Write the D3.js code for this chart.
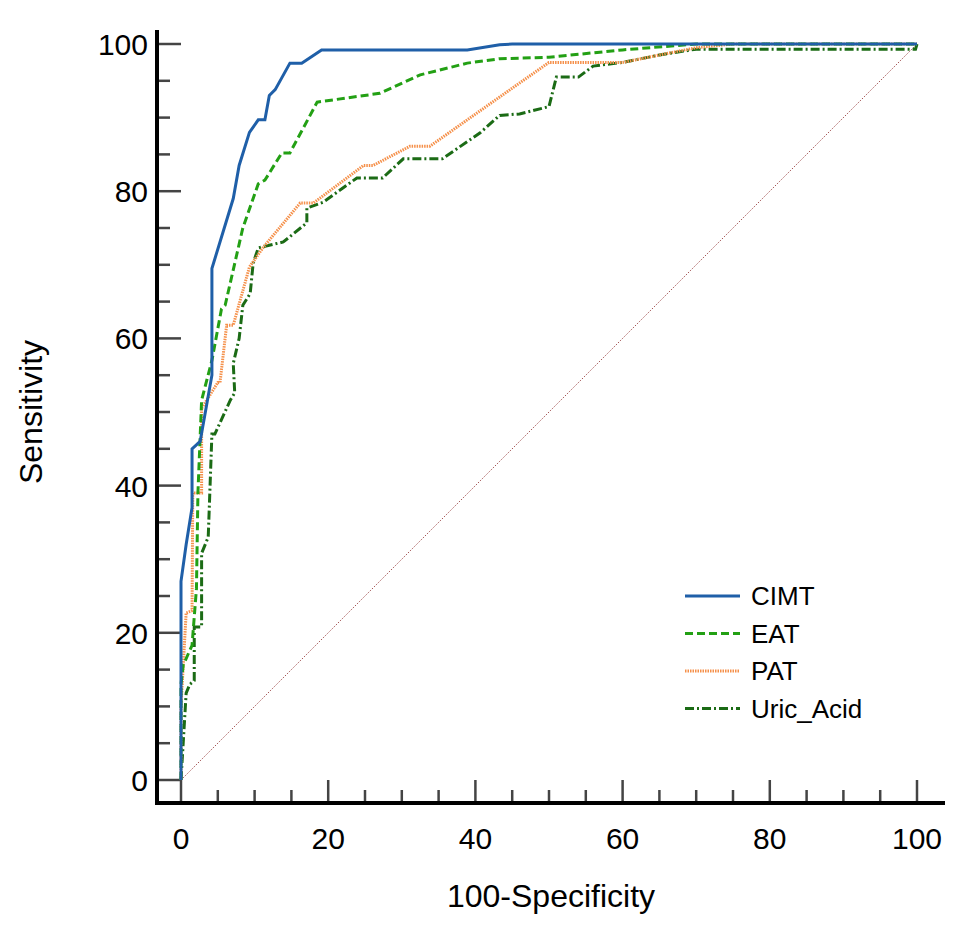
<!DOCTYPE html>
<html><head><meta charset="utf-8">
<script src="https://cdn.jsdelivr.net/npm/d3@7"></script>
<style>body{margin:0;background:#fff}text{font-family:"Liberation Sans",Arial,sans-serif}</style>
</head><body><svg id="c" width="963" height="925"></svg>
<script>
// ROC curves, [100-specificity, sensitivity]
var cimt = [[0,0],[0,15.4],[0,27],[0.7,32],[1.5,37],[1.5,45],[2.6,46],[4.2,55],[4.2,69.5],[7.1,79],[7.9,83.5],[9.3,88],[10.5,89.7],[11.4,89.7],[12,93],[12.8,93.8],[14.8,97.4],[16.4,97.4],[19.1,99.2],[38.9,99.2],[43.3,99.9],[45,100],[100,100]];
var eat = [[0,0],[0,13],[0.3,15.6],[1.5,18.3],[2.1,26],[2.3,39],[2.8,51.6],[4.2,57],[5.5,64],[6,64.5],[8.4,75],[10.5,81],[11.4,81.5],[13.7,85.2],[14.8,85.2],[18.5,92.1],[27,93.3],[32.5,95.8],[38.9,97.4],[43.3,98],[50,98.2],[60,99.2],[70,100],[100,100]];
var pat = [[0,0],[0,10],[0.7,22.7],[1.5,23],[1.6,39],[2.8,39],[2.8,50.5],[5,54],[5.3,54],[6.2,61.8],[7.1,61.8],[9.3,69.7],[11.2,72.4],[16.2,78.4],[18,78.4],[24.8,83.5],[26.1,83.5],[31.1,86.1],[33.8,86.1],[43.3,92.8],[50,97.5],[60,97.5],[65,98.5],[70,99.5],[75,100],[100,100]];
var uric = [[0,0],[0.7,11.8],[1.2,13],[1.8,13.5],[1.8,20.8],[2.8,20.8],[2.8,30.8],[3.7,33],[4.2,47],[4.6,47],[6.7,51.6],[7.3,52.6],[7.1,56.6],[7.9,60],[8.4,64.5],[9.4,66.1],[9.8,70.2],[10.5,72.3],[13.9,73.1],[17.1,75.7],[17.1,77.7],[19.3,78.5],[23.9,81.8],[27.4,81.8],[30.2,84.4],[35.5,84.4],[40.6,87.9],[43.3,90.3],[46,90.5],[50,91.5],[51,95.5],[54,95.5],[56,97],[60,97.5],[65,98.5],[70,99.3],[99.8,99.3],[100,100]];
var names = ["CIMT","EAT","PAT","Uric_Acid"];
var ticks = [0,20,40,60,80,100];

var svg = d3.select("#c");
var x = d3.scaleLinear().domain([0,100]).range([181,917]);
var y = d3.scaleLinear().domain([0,100]).range([780,44]);
var minor = d3.range(0,101,5);

// axes
svg.append("line").attr("x1",157).attr("x2",157).attr("y1",30).attr("y2",805).attr("stroke","#000").attr("stroke-width",4);
svg.append("line").attr("x1",155).attr("x2",945).attr("y1",803).attr("y2",803).attr("stroke","#000").attr("stroke-width",4);
minor.forEach(function(v){
  var big = v%20==0;
  svg.append("line").attr("x1",159).attr("x2",big?181:170).attr("y1",y(v)).attr("y2",y(v)).attr("stroke","#444").attr("stroke-width",2.5);
  svg.append("line").attr("y1",801).attr("y2",big?780:790).attr("x1",x(v)).attr("x2",x(v)).attr("stroke","#444").attr("stroke-width",2.5);
});
ticks.forEach(function(v){
  svg.append("text").attr("x",148).attr("y",y(v)+11).attr("text-anchor","end").attr("font-size",30).text(v);
  svg.append("text").attr("x",x(v)).attr("y",849).attr("text-anchor","middle").attr("font-size",30).text(v);
});
svg.append("text").attr("x",551).attr("y",907).attr("text-anchor","middle").attr("font-size",32).text("100-Specificity");
svg.append("text").attr("transform","translate(42,412) rotate(-90)").attr("text-anchor","middle").attr("font-size",32).text("Sensitivity");

// diagonal
svg.append("line").attr("x1",x(0)).attr("y1",y(0)).attr("x2",x(100)).attr("y2",y(100)).attr("stroke","#8b2a2a").attr("stroke-width",0.8).attr("stroke-dasharray","1.5,1.5");

var line = d3.line().x(function(d){return x(d[0])}).y(function(d){return y(d[1])});
var styles = [
  {c:"#1f5fa8",w:3,dash:null},
  {c:"#23a014",w:3,dash:"8,4"},
  {c:"#f5904a",w:3,dash:"1.5,1"},
  {c:"#1b6b15",w:3,dash:"9,3,2,3"}
];
[uric,pat,eat,cimt].forEach(function(d,i){
  var s = styles[3-i];
  svg.append("path").datum(d).attr("d",line).attr("fill","none").attr("stroke",s.c).attr("stroke-width",s.w).attr("stroke-dasharray",s.dash);
});
names.forEach(function(n,i){
  var yy = 596 + i*37.5, s = styles[i];
  svg.append("line").attr("x1",685).attr("x2",740).attr("y1",yy).attr("y2",yy).attr("stroke",s.c).attr("stroke-width",s.w).attr("stroke-dasharray",s.dash);
  svg.append("text").attr("x",751).attr("y",yy+9).attr("font-size",26).text(n);
});
</script></body></html>
